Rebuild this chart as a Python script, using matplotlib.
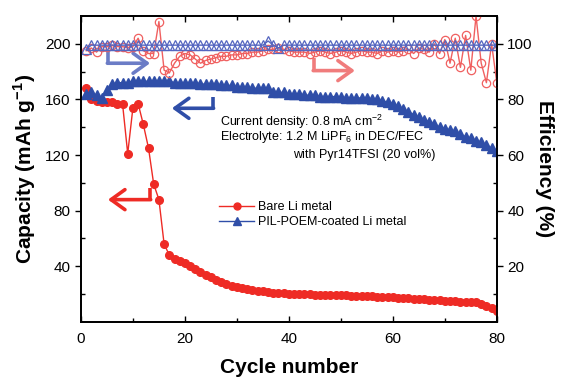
import matplotlib
matplotlib.use('Agg')
import matplotlib.pyplot as plt
from matplotlib.ticker import MultipleLocator, FixedLocator
from matplotlib.lines import Line2D

plt.rcParams['font.family'] = ['Liberation Sans', 'DejaVu Sans']
plt.rcParams['mathtext.fontset'] = 'custom'
plt.rcParams['mathtext.rm'] = 'Liberation Sans'
plt.rcParams['mathtext.bf'] = 'Liberation Sans:bold'

cycles = list(range(1, 81))

bare_capacity = [168, 160, 159, 158, 158, 158, 157, 157, 121, 154,
                 157, 142, 125, 99, 88, 56, 48, 45, 44, 42,
                 40, 38, 36, 34, 32, 30, 28.5, 27, 26, 25,
                 24, 23.5, 23, 22.5, 22, 21.5, 21, 21, 20.5, 20,
                 20, 20, 19.8, 19.8, 19.5, 19.5, 19.5, 19.3, 19.2, 19,
                 19, 18.8, 18.8, 18.5, 18.5, 18.3, 18.2, 18, 18, 17.8,
                 17.5, 17.2, 17, 16.8, 16.5, 16.3, 16, 15.8, 15.5, 15.2,
                 15, 14.8, 14.5, 14.2, 14, 14.5, 13, 11.5, 10, 8]

coated_capacity = [164, 165, 163, 161, 167, 171, 172, 172, 172, 173,
                   173, 173, 173, 173, 173, 173, 173, 172, 172, 172,
                   172, 172, 171, 171, 171, 171, 170, 170, 170, 169,
                   169, 169, 168, 168, 168, 168, 165, 165, 165, 164,
                   164, 164, 163, 163, 163, 162, 162, 162, 162, 162,
                   161, 161, 161, 161, 161, 160, 160, 159, 158, 157,
                   155, 153, 151, 149, 147, 145, 144, 142, 140, 139,
                   138, 137, 135, 133, 132, 130, 129, 127, 125, 123]

bare_efficiency = [97.5, 98.5, 97, 99, 99, 99.5, 99, 99, 98.5, 99,
                   102, 97.5, 96.5, 96.5, 108, 90.5, 89.5, 93, 95.5, 96.5,
                   96, 94.5, 93, 94, 94.5, 95, 95.5, 95.5, 96, 96,
                   96.5, 96.5, 97, 97, 97.5, 98, 98, 98.5, 98, 97.5,
                   97, 97, 97, 96.5, 97, 97.5, 97, 96.5, 97, 97.5,
                   97, 96.5, 97, 97.5, 97, 97, 96.5, 97.5, 97, 97.5,
                   97, 97.5, 98, 96.5, 98.5, 98, 97, 100, 96.5, 101.5,
                   93, 102, 91.5, 103, 90.5, 110, 93, 86, 100, 86]

coated_efficiency = [98, 99.5, 99.5, 99.5, 99.5, 99.5, 99.5, 99.5, 99.5, 99.5,
                     99.5, 99.5, 99.5, 99.5, 99.5, 99.5, 99.5, 99.5, 99.5, 99.5,
                     99.5, 99.5, 99.5, 99.5, 99.5, 99.5, 99.5, 99.5, 99.5, 99.5,
                     99.5, 99.5, 99.5, 99.5, 99.5, 101, 99.5, 98.5, 99.5, 99.5,
                     99.5, 99.5, 99.5, 99.5, 99.5, 99.5, 99.5, 99.5, 99.5, 99.5,
                     99.5, 99.5, 99.5, 99.5, 99.5, 99.5, 99.5, 99.5, 99.5, 99.5,
                     99.5, 99.5, 99.5, 99.5, 99.5, 99.5, 99.5, 99.5, 99.5, 99.5,
                     99.5, 99.5, 99.5, 99.5, 99.5, 99.5, 99.5, 99.5, 99.5, 99.5]

legend_labels = ['Bare Li metal', 'PIL-POEM-coated Li metal']

RED = '#ee2b25'
LRED = '#f06060'
BLUE = '#2f4ea8'
LBLUE = '#5566c0'

fig = plt.figure(figsize=(5.62, 3.8), dpi=100)
ax = fig.add_axes([0.144, 0.153, 0.740, 0.805])
ax2 = ax.twinx()

ax.plot(cycles, bare_capacity, color=RED, lw=1.0, marker='o', ms=5.5,
        mfc=RED, mec=RED, zorder=3)
ax.plot(cycles, coated_capacity, color=BLUE, lw=1.0, marker='^', ms=7,
        mfc=BLUE, mec=BLUE, zorder=3)

ax2.plot(cycles, bare_efficiency, color=LRED, lw=1.0, marker='o', ms=6,
         mfc='none', mec=LRED, mew=0.9, clip_on=True)
ax2.plot(cycles, coated_efficiency, color=LBLUE, lw=1.0, marker='^', ms=6.5,
         mfc='none', mec=LBLUE, mew=0.9)

ax.set_xlim(0, 80)
ax.set_ylim(0, 220)
ax2.set_ylim(0, 110)

ax.xaxis.set_major_locator(MultipleLocator(20))
ax.xaxis.set_minor_locator(MultipleLocator(10))
ax.yaxis.set_major_locator(FixedLocator([40, 80, 120, 160, 200]))
ax.yaxis.set_minor_locator(FixedLocator([20, 60, 100, 140, 180]))
ax2.yaxis.set_major_locator(FixedLocator([20, 40, 60, 80, 100]))
ax2.yaxis.set_minor_locator(FixedLocator([10, 30, 50, 70, 90]))

ax.tick_params(axis='x', which='both', direction='in', top=True, labelsize=11, pad=7)
ax.tick_params(axis='x', which='major', length=4, width=1)
ax.tick_params(axis='x', which='minor', length=3, width=1)
ax.tick_params(axis='y', which='major', direction='out', length=4, width=1, labelsize=11)
ax.tick_params(axis='y', which='minor', direction='in', length=3, width=1)
ax2.tick_params(axis='y', which='major', direction='out', length=4, width=1, labelsize=11)
ax2.tick_params(axis='y', which='minor', direction='in', length=3, width=1)

for a in (ax, ax2):
    for s in a.spines.values():
        s.set_linewidth(1.3)

ax.set_xlabel('Cycle number', fontsize=15, fontweight='bold', labelpad=9)
ax.set_ylabel('Capacity (mAh g$^{\\mathbf{-1}}$)', fontsize=15, fontweight='bold', labelpad=5)
ax2.set_ylabel('Efficiency (%)', fontsize=15, fontweight='bold', rotation=270, labelpad=15)

# annotation text
ax.text(0.335, 0.655, 'Current density: 0.8 mA cm$^{-2}$', transform=ax.transAxes,
        fontsize=9, ha='left', va='center')
ax.text(0.335, 0.603, 'Electrolyte: 1.2 M LiPF$_{6}$ in DEC/FEC', transform=ax.transAxes,
        fontsize=9, ha='left', va='center')
ax.text(0.51, 0.544, 'with Pyr14TFSI (20 vol%)', transform=ax.transAxes,
        fontsize=9, ha='left', va='center')

handles = [Line2D([], [], color=RED, lw=1.0, marker='o', ms=5, mfc=RED, mec=RED),
           Line2D([], [], color=BLUE, lw=1.0, marker='^', ms=6, mfc=BLUE, mec=BLUE)]
ax.legend(handles, legend_labels, loc='upper left', bbox_to_anchor=(0.32, 0.41),
          frameon=False, fontsize=9, handlelength=2.8, handletextpad=0.3,
          labelspacing=0.2, borderaxespad=0, numpoints=1)

# arrows (axes-relative guides)
def bent_arrow(xv, y0, y1, xh, color):
    ax.plot([xv, xv], [y0, y1], color=color, lw=2.6, solid_capstyle='butt', zorder=4)
    ax.annotate('', xy=(xh, y1), xytext=(xv - (0.12 if xh > xv else -0.12), y1),
                arrowprops=dict(arrowstyle='->,head_length=0.5,head_width=0.36',
                                color=color, lw=2.6, shrinkA=0, shrinkB=0,
                                mutation_scale=20),
                zorder=4)

bent_arrow(5.2, 195, 186, 13.3, '#6b7cc6')
bent_arrow(25.4, 162, 153.6, 17.5, BLUE)
bent_arrow(13.3, 96.4, 87.9, 5.2, RED)
bent_arrow(44.8, 190, 180.7, 52.7, '#f07c7c')

fig.savefig('out.png', dpi=100)
